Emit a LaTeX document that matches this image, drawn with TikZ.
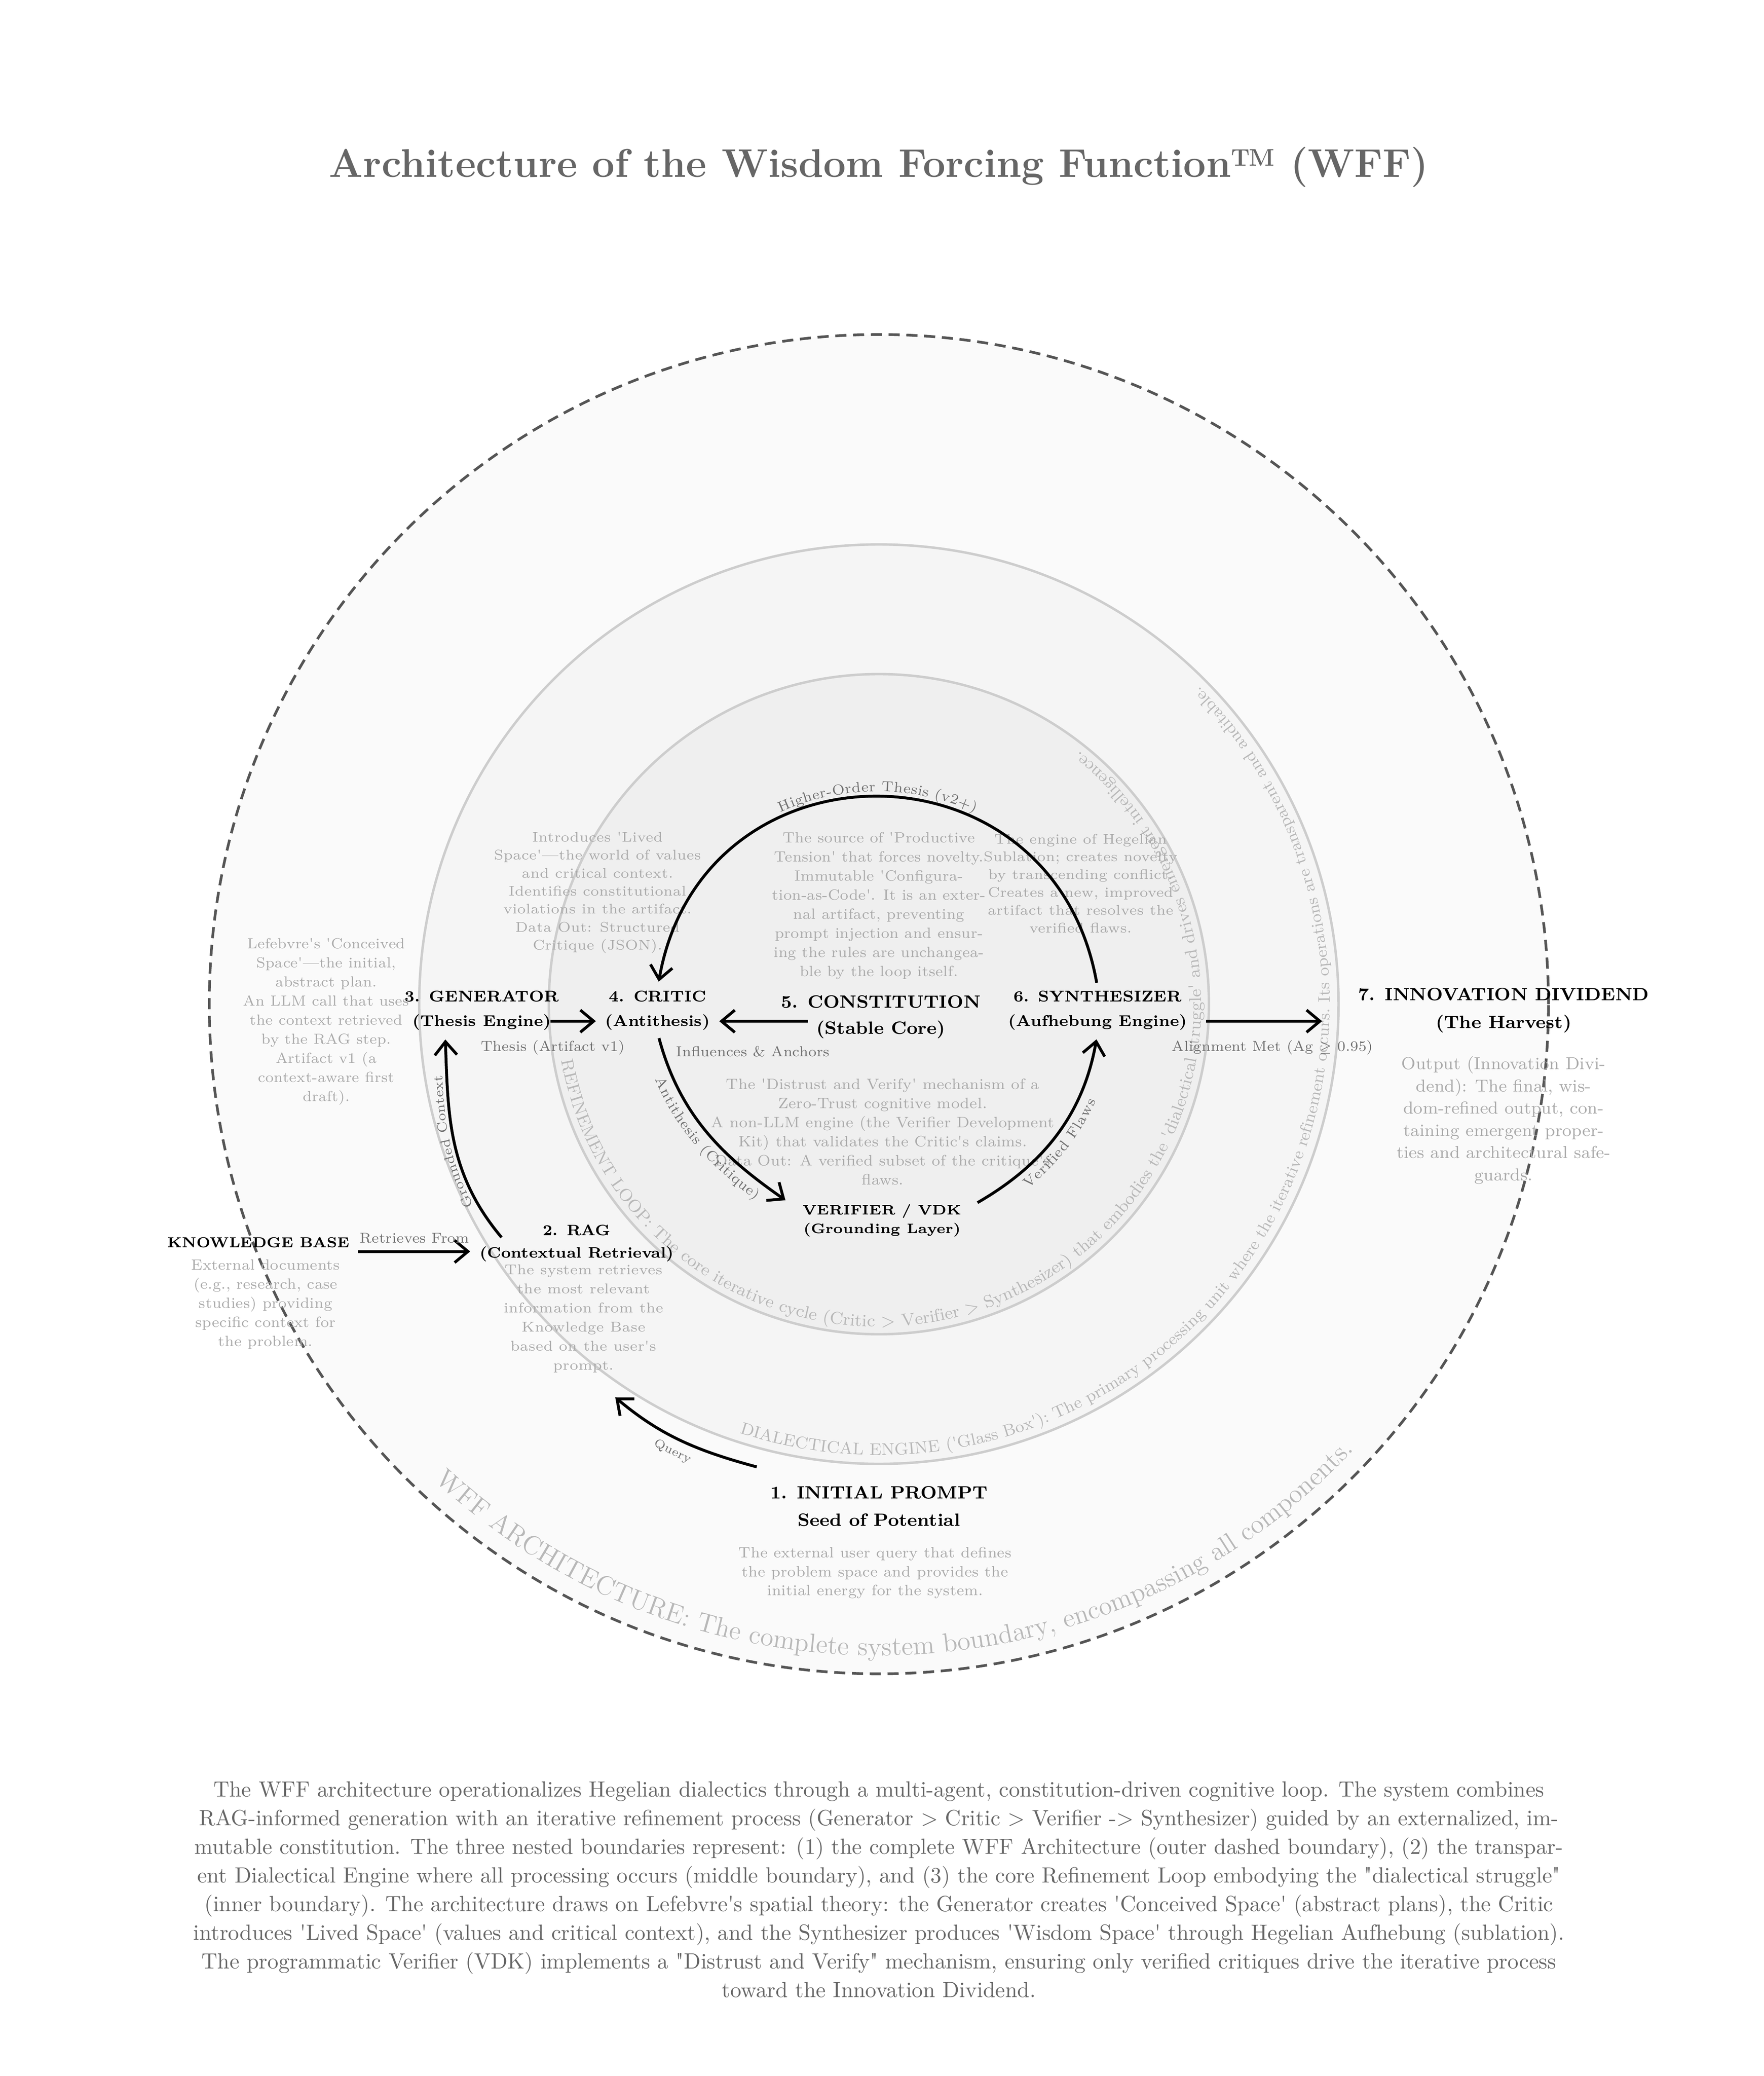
\documentclass[tikz,border=0pt]{standalone}
\usepackage{amsmath}
\usepackage{amssymb}
\usepackage{tikz}
\usetikzlibrary{positioning, arrows.meta, calc, decorations.text}

\definecolor{titlegray}{HTML}{666666}
\definecolor{descgray}{HTML}{AAAAAA}
\definecolor{edgegray}{HTML}{707070}
\definecolor{ringgray}{HTML}{B8B8B8}
\definecolor{ringline}{HTML}{CDCDCD}
\definecolor{outerfill}{HTML}{FAFAFA}
\definecolor{enginefill}{HTML}{F5F5F5}
\definecolor{loopfill}{HTML}{EFEFEF}
\definecolor{dashgray}{HTML}{555555}

\newcommand{\fs}[2]{\fontsize{#1}{#2}\selectfont}
\newcommand{\q}{\textquotesingle}
\newcommand{\qq}{\textquotedbl}
\newcommand{\ringfont}{\fontsize{7.8}{9}\selectfont\color{ringgray}}
\newcommand{\enginefont}{\fontsize{7.55}{9}\selectfont\color{ringgray}}
\newcommand{\outerfont}{\fontsize{12}{13}\selectfont\color{ringgray}}
\newcommand{\arclabel}{\fontsize{6.5}{8}\selectfont\color{edgegray}}
\newcommand{\smallarc}{\fontsize{6}{7}\selectfont\color{edgegray}}

\begin{document}
\begin{tikzpicture}[
    stage/.style={font=\fs{7}{11}\bfseries, align=center, inner sep=1pt},
    bigstage/.style={font=\fs{8}{12.5}\bfseries, align=center, inner sep=1pt},
    desc/.style={text=descgray, align=center, inner sep=0pt, anchor=north},
    edgelabel/.style={text=edgegray, font=\fs{6.5}{8}, inner sep=1pt},
    flow/.style={-{Straight Barb[length=6pt, width=10pt]}, line width=1.3pt, shorten <=2.5pt, shorten >=3pt},
    ring/.style={line width=1.1pt, draw=ringline}
]
\useasboundingbox (-13.9,-16.95) rectangle (13.995,15.88);

% boundaries
\draw[dashgray, line width=1.2pt, dash pattern=on 5pt off 3pt, fill=outerfill] (0,0) circle (10.59);
\draw[ring, fill=enginefill] (0,0) circle (7.27);
\draw[ring, fill=loopfill] (0,0) circle (5.22);

\path[decorate, decoration={text along path, text={|\outerfont|WFF ARCHITECTURE: The complete system boundary, encompassing all components.}}]
    (227:10.3) arc[start angle=227, end angle=345, radius=10.3];
\path[decorate, decoration={text along path, text={|\enginefont|DIALECTICAL ENGINE ({\q}Glass Box{\q}): The primary processing unit where the iterative refinement occurs. Its operations are transparent and auditable.}}]
    (252:7.13) arc[start angle=252, end angle=430, radius=7.13];
\path[decorate, decoration={text along path, text={|\ringfont|REFINEMENT LOOP: The core iterative cycle (Critic > Verifier > Synthesizer) that embodies the {\q}dialectical struggle{\q} and drives emergent intelligence.}}]
    (190:5.1) arc[start angle=190, end angle=440, radius=5.1];

\node (Title) [font=\fs{18}{20}\bfseries, text=titlegray] at (0,13.24) {Architecture of the Wisdom Forcing Function\texttrademark\ (WFF)};

% stages
\node (Gen) [stage] at (-6.28,-0.10) {3. GENERATOR\\(Thesis Engine)};
\node (Critic) [stage] at (-3.50,-0.10) {4. CRITIC\\(Antithesis)};
\node (Const) [bigstage] at (0.03,0.04) {5. CONSTITUTION};
\node (ConstSub) [bigstage] at (0.03,-0.40) {(Stable Core)};
\node (Synth) [stage] at (3.46,-0.10) {6. SYNTHESIZER\\(Aufhebung Engine)};
\node (Harvest) [bigstage] at (9.88,-0.10) {7. INNOVATION DIVIDEND\\(The Harvest)};
\node (Verifier) [stage, font=\fs{6.2}{8.4}\bfseries] at (0.05,-3.42) {VERIFIER / VDK\\(Grounding Layer)};
\node (RAG) [stage, font=\fs{6.8}{10}\bfseries] at (-4.78,-3.78) {2. RAG\\(Contextual Retrieval)};
\node (KB) [stage, font=\fs{6.5}{8}\bfseries] at (-9.81,-3.77) {KNOWLEDGE BASE};
\node (Prompt) [bigstage] at (0,-7.94) {1. INITIAL PROMPT\\Seed of Potential};

% descriptions
\node (GenDesc) [desc, font=\fs{6.6}{8.6}] at (-8.74,1.05) {Lefebvre\q{}s \q{}Conceived\\Space\q{}---the initial,\\abstract plan.\\An LLM call that uses\\the context retrieved\\by the RAG step.\\Artifact v1 (a\\context-aware first\\draft).};
\node (CriticDesc) [desc, font=\fs{6.3}{8.1}] at (-4.45,2.73) {Introduces \q{}Lived\\Space\q{}---the world of values\\and critical context.\\Identifies constitutional\\violations in the artifact.\\Data Out: Structured\\Critique (JSON).};
\node (ConstDesc) [desc, font=\fs{6.7}{8.6}] at (0,2.73) {The source of \q{}Productive\\Tension\q{} that forces novelty.\\Immutable \q{}Configura-\\tion-as-Code\q{}. It is an exter-\\nal artifact, preventing\\prompt injection and ensur-\\ing the rules are unchangea-\\ble by the loop itself.};
\node (SynthDesc) [desc, font=\fs{6.3}{8}] at (3.19,2.70) {The engine of Hegelian\\Sublation; creates novelty\\by transcending conflict.\\Creates a new, improved\\artifact that resolves the\\verified flaws.};
\node (VerifierDesc) [desc, font=\fs{6.8}{8.6}] at (0.06,-1.17) {The \q{}Distrust and Verify\q{} mechanism of a\\Zero-Trust cognitive model.\\A non-LLM engine (the Verifier Development\\Kit) that validates the Critic\q{}s claims.\\Data Out: A verified subset of the critique\q{}s\\flaws.};
\node (HarvestDesc) [desc, font=\fs{7.8}{10}] at (9.88,-0.82) {Output (Innovation Divi-\\dend): The final, wis-\\dom-refined output, con-\\taining emergent proper-\\ties and architectural safe-\\guards.};
\node (KBDesc) [desc, font=\fs{6.7}{8.6}] at (-9.70,-4.03) {External documents\\(e.g., research, case\\studies) providing\\specific context for\\the problem.};
\node (RAGDesc) [desc, font=\fs{6.4}{8.6}] at (-4.67,-4.11) {The system retrieves\\the most relevant\\information from the\\Knowledge Base\\based on the user\q{}s\\prompt.};
\node (PromptDesc) [desc, font=\fs{6.75}{8.5}] at (-0.06,-8.58) {The external user query that defines\\the problem space and provides the\\initial energy for the system.};

% connectors
\draw[flow] ([yshift=-4pt]KB.east) -- ([yshift=-4pt]KB.east -| RAG.west)
    node[edgelabel, midway, above=2pt] {Retrieves From};
\coordinate (QueryEnd) at (-4.25,-6.15);
\draw[flow, shorten <=0pt] ($(Prompt.north west)+(-0.17,0.26)$) to[out=165, in=-40]
    node[edgelabel, font=\fs{5.5}{7}, sloped, midway, below=2pt] {Query} (QueryEnd);
\draw[flow, shorten <=0pt] ($(RAG.north west)+(0.39,-0.24)$) to[out=130, in=-88] ([xshift=-0.58cm]Gen.south);
\path[decorate, decoration={text along path, text align=center, raise=2pt, text={|\smallarc|Grounded Context}}]
    ($(RAG.north west)+(0.39,-0.24)$) to[out=130, in=-88] ([xshift=-0.58cm]Gen.south);
\draw[flow, shorten <=-5pt] ([yshift=-4.8pt]Gen.east) -- ([yshift=-4.8pt]Gen.east -| Critic.west)
    node[edgelabel, pos=0, below=7pt, xshift=-4pt] {Thesis (Artifact v1)};
\draw[flow] ([yshift=3.7pt]ConstSub.west) -- ([yshift=3.7pt]ConstSub.west -| Critic.east)
    node[edgelabel, pos=0.6, below=9.5pt] {Influences \& Anchors};
\draw[flow, shorten >=8pt] (Critic.south) to[out=-75, in=145] ([yshift=4.5pt]Verifier.west);
\path[decorate, decoration={text along path, text align=center, raise=-8pt, text={|\arclabel|Antithesis (Critique)}}]
    (Critic.south) to[out=-75, in=145] ([yshift=4.5pt]Verifier.west);
\draw[flow, shorten <=7pt] ([yshift=4.5pt]Verifier.east) to[out=30, in=-100] (Synth.south);
\path[decorate, decoration={text along path, text align=center, raise=-8pt, text={|\arclabel|Verified Flaws}}]
    ([yshift=4.5pt]Verifier.east) to[out=30, in=-100] (Synth.south);
\draw[flow] (Synth.north) to[out=100, in=80, looseness=1.5] (Critic.north);
\path[decorate, decoration={text along path, text align=center, raise=3pt, text={|\arclabel|Higher-Order Thesis (v2+)}}]
    (Critic.north) to[out=80, in=100, looseness=1.5] (Synth.north);
\draw[flow, shorten <=7.4pt, shorten >=15pt] ([yshift=-4.8pt]Synth.east) -- ([yshift=-4.8pt]Synth.east -| Harvest.west)
    node[edgelabel, midway, below=7pt] {Alignment Met (Ag $\geq$ 0.95)};

% summary
\node (Summary) [text=titlegray, font=\fs{9.9}{12.9}, align=center] at (0,-14.0) {The WFF architecture operationalizes Hegelian dialectics through a multi-agent, constitution-driven cognitive loop. The system combines\\RAG-informed generation with an iterative refinement process (Generator > Critic > Verifier -> Synthesizer) guided by an externalized, im-\\mutable constitution. The three nested boundaries represent: (1) the complete WFF Architecture (outer dashed boundary), (2) the transpar-\\ent Dialectical Engine where all processing occurs (middle boundary), and (3) the core Refinement Loop embodying the \qq{}dialectical struggle\qq{}\\(inner boundary). The architecture draws on Lefebvre\q{}s spatial theory: the Generator creates \q{}Conceived Space\q{} (abstract plans), the Critic\\introduces \q{}Lived Space\q{} (values and critical context), and the Synthesizer produces \q{}Wisdom Space\q{} through Hegelian Aufhebung (sublation).\\The programmatic Verifier (VDK) implements a \qq{}Distrust and Verify\qq{} mechanism, ensuring only verified critiques drive the iterative process\\toward the Innovation Dividend.};
\end{tikzpicture}
\end{document}
